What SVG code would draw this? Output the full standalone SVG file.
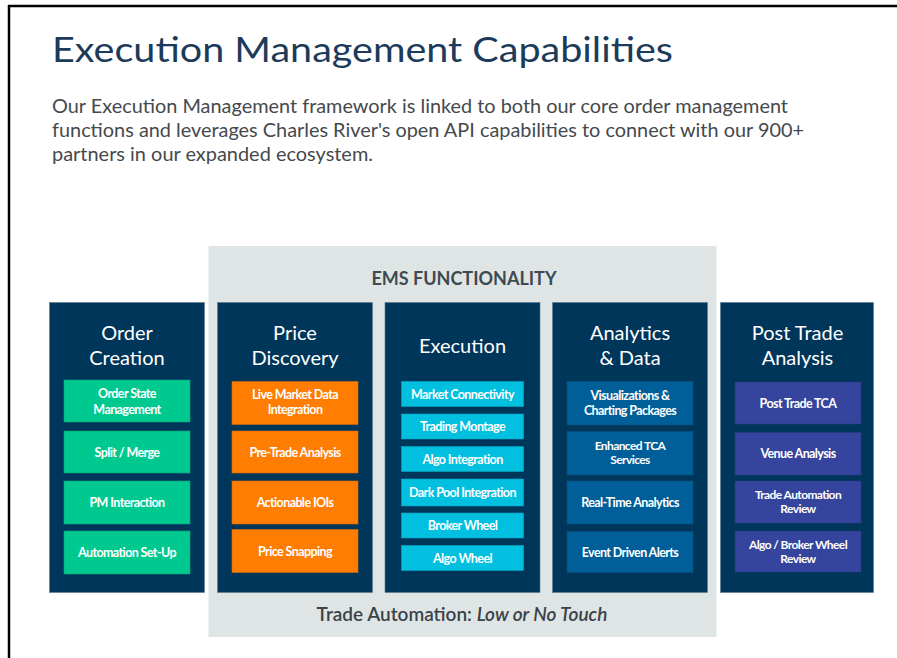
<svg xmlns="http://www.w3.org/2000/svg" width="897" height="658" viewBox="0 0 897 658">
<style>
.frame{stroke:#000;stroke-width:2.5;fill:none}
.title{font-family:Lato,"Liberation Sans",sans-serif;font-size:35px;fill:#1c3b5a}
.para{font-family:Lato,"Liberation Sans",sans-serif;font-size:19px;fill:#45494d}
.col{fill:#00365a;stroke:#5a7a90;stroke-width:0.6}
.ctitle{font-family:Lato,"Liberation Sans",sans-serif;font-size:20px;fill:#fff;text-anchor:middle}
.it{font-family:Lato,"Liberation Sans",sans-serif;font-size:12.5px;font-weight:bold;fill:#fff;text-anchor:middle;letter-spacing:-0.6px}
.it2{font-family:Lato,"Liberation Sans",sans-serif;font-size:12px;font-weight:bold;fill:#fff;text-anchor:middle;letter-spacing:-0.6px}
.green{fill:#00c98f;stroke:#0aa57a;stroke-width:0.6}
.orange{fill:#ff7d00;stroke:#d96a00;stroke-width:0.6}
.cyan{fill:#00bfdf;stroke:#0aa6c2;stroke-width:0.6}
.blue{fill:#005f98;stroke:#0a5080;stroke-width:0.6}
.purple{fill:#35449c;stroke:#2c3a86;stroke-width:0.6}
.ems{font-family:Lato,"Liberation Sans",sans-serif;font-size:18px;font-weight:bold;fill:#3e4a52;text-anchor:middle}
.ta{font-family:Lato,"Liberation Sans",sans-serif;font-size:19px;font-weight:600;fill:#3a4349;text-anchor:middle}
</style>
<rect x="0" y="0" width="897" height="658" fill="#fff"/>
<line class="frame" x1="8" y1="6" x2="897" y2="6"/>
<line class="frame" x1="9" y1="5" x2="9" y2="658"/>
<text class="title" x="52" y="62" textLength="621" lengthAdjust="spacingAndGlyphs">Execution Management Capabilities</text>
<g id="intro">
<text class="para" x="52" y="113" textLength="736" lengthAdjust="spacingAndGlyphs">Our Execution Management framework is linked to both our core order management</text>
<text class="para" x="52" y="137" textLength="752" lengthAdjust="spacingAndGlyphs">functions and leverages Charles River's open API capabilities to connect with our 900+</text>
<text class="para" x="52" y="161" textLength="321" lengthAdjust="spacingAndGlyphs">partners in our expanded ecosystem.</text>
</g>
<g id="ems-functionality">
<rect x="208.5" y="246" width="508" height="391" fill="#dfe5e5"/>
<text class="ems" x="464" y="285">EMS FUNCTIONALITY</text>
<text class="ta" x="462" y="621">Trade Automation: <tspan font-style="italic">Low or No Touch</tspan></text>
</g>
<g id="order-creation">
<rect class="col" x="49.5" y="302.5" width="155" height="290"/>
<text class="ctitle" x="127" y="340">Order</text>
<text class="ctitle" x="127" y="365">Creation</text>
<g id="order-state-management"><rect class="green" x="64" y="380" width="126" height="42"/><text class="it" x="127" y="398">Order State</text><text class="it" x="127" y="413.5">Management</text></g>
<g id="split-merge"><rect class="green" x="64" y="431" width="126" height="42"/><text class="it" x="127" y="456.5">Split / Merge</text></g>
<g id="pm-interaction"><rect class="green" x="64" y="481" width="126" height="43"/><text class="it" x="127" y="507">PM Interaction</text></g>
<g id="automation-set-up"><rect class="green" x="64" y="531" width="126" height="43"/><text class="it" x="127" y="557">Automation Set-Up</text></g>
</g>
<g id="price-discovery">
<rect class="col" x="217.5" y="302.5" width="155" height="290"/>
<text class="ctitle" x="295" y="340">Price</text>
<text class="ctitle" x="295" y="365">Discovery</text>
<g id="live-market-data"><rect class="orange" x="232" y="381.5" width="126" height="43"/><text class="it" x="295" y="398.5">Live Market Data</text><text class="it" x="295" y="414">Integration</text></g>
<g id="pre-trade-analysis"><rect class="orange" x="232" y="431" width="126" height="42"/><text class="it" x="295" y="456.5">Pre-Trade Analysis</text></g>
<g id="actionable-iois"><rect class="orange" x="232" y="481" width="126" height="43"/><text class="it" x="295" y="507">Actionable IOIs</text></g>
<g id="price-snapping"><rect class="orange" x="232" y="529.5" width="126" height="43"/><text class="it" x="295" y="555.5">Price Snapping</text></g>
</g>
<g id="execution">
<rect class="col" x="385" y="302.5" width="155" height="290"/>
<text class="ctitle" x="462.5" y="353">Execution</text>
<g id="market-connectivity"><rect class="cyan" x="401.5" y="381.5" width="122" height="25"/><text class="it" x="462.5" y="398.5">Market Connectivity</text></g>
<g id="trading-montage"><rect class="cyan" x="401.5" y="414" width="122" height="25"/><text class="it" x="462.5" y="431">Trading Montage</text></g>
<g id="algo-integration"><rect class="cyan" x="401.5" y="446.5" width="122" height="25"/><text class="it" x="462.5" y="463.5">Algo Integration</text></g>
<g id="dark-pool-integration"><rect class="cyan" x="401.5" y="479" width="122" height="27"/><text class="it" x="462.5" y="497">Dark Pool Integration</text></g>
<g id="broker-wheel"><rect class="cyan" x="401.5" y="513" width="122" height="25"/><text class="it" x="462.5" y="530">Broker Wheel</text></g>
<g id="algo-wheel"><rect class="cyan" x="401.5" y="545.5" width="122" height="25"/><text class="it" x="462.5" y="562.5">Algo Wheel</text></g>
</g>
<g id="analytics-data">
<rect class="col" x="552.5" y="302.5" width="155" height="290"/>
<text class="ctitle" x="630" y="340">Analytics</text>
<text class="ctitle" x="630" y="365">&amp; Data</text>
<g id="visualizations"><rect class="blue" x="567" y="381.5" width="126" height="43.5"/><text class="it" x="630" y="400">Visualizations &amp;</text><text class="it" x="630" y="414.5">Charting Packages</text></g>
<g id="enhanced-tca"><rect class="blue" x="567" y="431.5" width="126" height="43.5"/><text class="it2" x="630" y="449.5">Enhanced TCA</text><text class="it2" x="630" y="463.5">Services</text></g>
<g id="real-time-analytics"><rect class="blue" x="567" y="481" width="126" height="43"/><text class="it" x="630" y="507">Real-Time Analytics</text></g>
<g id="event-driven-alerts"><rect class="blue" x="567" y="531.5" width="126" height="41"/><text class="it" x="630" y="556.5">Event Driven Alerts</text></g>
</g>
<g id="post-trade-analysis">
<rect class="col" x="720.5" y="302.5" width="153" height="290"/>
<text class="ctitle" x="797.5" y="340">Post Trade</text>
<text class="ctitle" x="797.5" y="365">Analysis</text>
<g id="post-trade-tca"><rect class="purple" x="735" y="382" width="126" height="42"/><text class="it" x="798" y="408">Post Trade TCA</text></g>
<g id="venue-analysis"><rect class="purple" x="735" y="432.5" width="126" height="42.5"/><text class="it" x="798" y="458">Venue Analysis</text></g>
<g id="trade-automation-review"><rect class="purple" x="735" y="481" width="126" height="42"/><text class="it2" x="798" y="498.5">Trade Automation</text><text class="it2" x="798" y="512.5">Review</text></g>
<g id="algo-broker-wheel-review"><rect class="purple" x="735" y="531" width="126" height="41"/><text class="it2" x="798" y="548.5">Algo / Broker Wheel</text><text class="it2" x="798" y="562.5">Review</text></g>
</g>
</svg>
